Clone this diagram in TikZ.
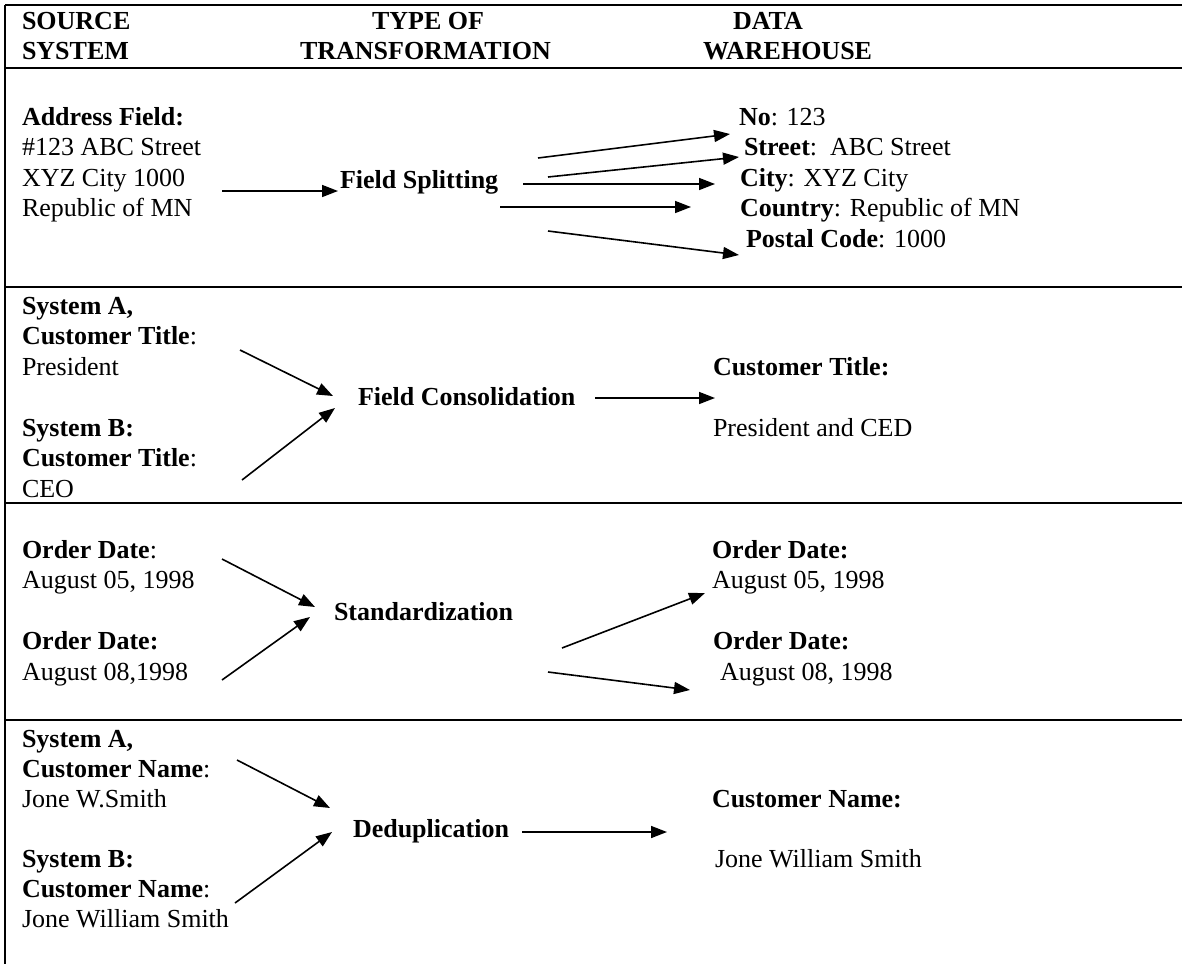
\documentclass[tikz,border=0pt]{standalone}
\usepackage{fontspec}
\setmainfont{Liberation Serif}
\usetikzlibrary{arrows.meta}
\tikzset{
  txt/.style={anchor=base west, inner sep=0pt, outer sep=0pt, font=\fontsize{26}{30.5}\selectfont},
  bt/.style={txt, font=\fontsize{26}{30.5}\selectfont\bfseries},
  rulel/.style={line width=1.8pt},
  arr/.style={line width=1.6pt, -{Triangle[length=16pt,width=12pt]}},
}
\begin{document}
\begin{tikzpicture}[x=1pt,y=-1pt]
\useasboundingbox (0,0) rectangle (1182,964);
% frame lines
\coordinate (tl) at (5,5);   \coordinate (tr) at (1182,5);
\coordinate (bl) at (5,964);
\coordinate (h0) at (5,68);  \coordinate (h1) at (1182,68);
\coordinate (r10) at (5,287); \coordinate (r11) at (1182,287);
\coordinate (r20) at (5,503); \coordinate (r21) at (1182,503);
\coordinate (r30) at (5,720); \coordinate (r31) at (1182,720);
\draw[rulel] (tl) -- (tr);
\draw[rulel] (tl) -- (bl);
\draw[rulel] (h0) -- (h1);
\draw[rulel] (r10) -- (r11);
\draw[rulel] (r20) -- (r21);
\draw[rulel] (r30) -- (r31);
% header
\node[bt] (h1a) at (22,29) {SOURCE};
\node[bt] (h1b) at (22,59) {SYSTEM};
\node[bt] (h2a) at (372,29) {TYPE OF};
\node[bt] (h2b) at (300,59) {TRANSFORMATION};
\node[bt] (h3a) at (733,29) {DATA};
\node[bt] (h3b) at (703,59) {WAREHOUSE};
% row 1
\node[txt] (a1) at (22,125) {\textbf{Address Field:}};
\node[txt] (a2) at (22,155.5) {\#123 ABC Street};
\node[txt] (a3) at (22,186) {XYZ City 1000};
\node[txt] (a4) at (22,216.5) {Republic of MN};
\node[bt] (fs) at (340,188) {Field Splitting};
\node[txt] (w1) at (739,125) {\textbf{No}: 123};
\node[txt] (w2) at (744,155.5) {\textbf{Street}:\ \ ABC Street};
\node[txt] (w3) at (740,186) {\textbf{City}: XYZ City};
\node[txt] (w4) at (740,216.5) {\textbf{Country}: Republic of MN};
\node[txt] (w5) at (746,247) {\textbf{Postal Code}: 1000};
\coordinate (s0a) at (222,191); \coordinate (s0b) at (338,191);
\coordinate (s1a) at (538,158); \coordinate (s1b) at (730,134);
\coordinate (s2a) at (548,177); \coordinate (s2b) at (739,157);
\coordinate (s3a) at (523,184); \coordinate (s3b) at (715,184);
\coordinate (s4a) at (500,207); \coordinate (s4b) at (691,207);
\coordinate (s5a) at (548,231); \coordinate (s5b) at (739,255);
\draw[arr] (s0a) -- (s0b);
\draw[arr] (s1a) -- (s1b);
\draw[arr] (s2a) -- (s2b);
\draw[arr] (s3a) -- (s3b);
\draw[arr] (s4a) -- (s4b);
\draw[arr] (s5a) -- (s5b);
% row 2
\node[txt] (b1) at (22,314) {\textbf{System A,}};
\node[txt] (b2) at (22,344.5) {\textbf{Customer Title}:};
\node[txt] (b3) at (22,375) {President};
\node[txt] (b4) at (22,436) {\textbf{System B:}};
\node[txt] (b5) at (22,466.5) {\textbf{Customer Title}:};
\node[txt] (b6) at (22,497) {CEO};
\node[bt] (fc) at (358,405) {Field Consolidation};
\node[txt] (c1) at (713,375) {\textbf{Customer Title:}};
\node[txt] (c2) at (713,436) {President and CED};
\coordinate (t1a) at (240,350); \coordinate (t1b) at (333,396);
\coordinate (t2a) at (242,480); \coordinate (t2b) at (335,408);
\coordinate (t3a) at (595,398); \coordinate (t3b) at (715,398);
\draw[arr] (t1a) -- (t1b);
\draw[arr] (t2a) -- (t2b);
\draw[arr] (t3a) -- (t3b);
% row 3
\node[txt] (d1) at (22,558) {\textbf{Order Date}:};
\node[txt] (d2) at (22,588.5) {August 05, 1998};
\node[txt] (d3) at (22,649.5) {\textbf{Order Date:}};
\node[txt] (d4) at (22,680) {August 08,1998};
\node[bt] (st) at (334,620) {Standardization};
\node[txt] (e1) at (712,558) {\textbf{Order Date:}};
\node[txt] (e2) at (712,588.5) {August 05, 1998};
\node[txt] (e3) at (713,649.5) {\textbf{Order Date:}};
\node[txt] (e4) at (720,680) {August 08, 1998};
\coordinate (u1a) at (222,559); \coordinate (u1b) at (315,607);
\coordinate (u2a) at (222,680); \coordinate (u2b) at (310,617);
\coordinate (u3a) at (562,648); \coordinate (u3b) at (705,593);
\coordinate (u4a) at (548,672); \coordinate (u4b) at (690,690);
\draw[arr] (u1a) -- (u1b);
\draw[arr] (u2a) -- (u2b);
\draw[arr] (u3a) -- (u3b);
\draw[arr] (u4a) -- (u4b);
% row 4
\node[txt] (f1) at (22,747) {\textbf{System A,}};
\node[txt] (f2) at (22,777) {\textbf{Customer Name}:};
\node[txt] (f3) at (22,807) {Jone W.Smith};
\node[txt] (f4) at (22,867) {\textbf{System B:}};
\node[txt] (f5) at (22,897) {\textbf{Customer Name}:};
\node[txt] (f6) at (22,927) {Jone William Smith};
\node[bt] (dd) at (353,837) {Deduplication};
\node[txt] (g1) at (712,807) {\textbf{Customer Name:}};
\node[txt] (g2) at (715,867) {Jone William Smith};
\coordinate (v1a) at (237,760); \coordinate (v1b) at (330,808);
\coordinate (v2a) at (235,903); \coordinate (v2b) at (332,832);
\coordinate (v3a) at (522,832); \coordinate (v3b) at (667,832);
\draw[arr] (v1a) -- (v1b);
\draw[arr] (v2a) -- (v2b);
\draw[arr] (v3a) -- (v3b);
\end{tikzpicture}
\end{document}
